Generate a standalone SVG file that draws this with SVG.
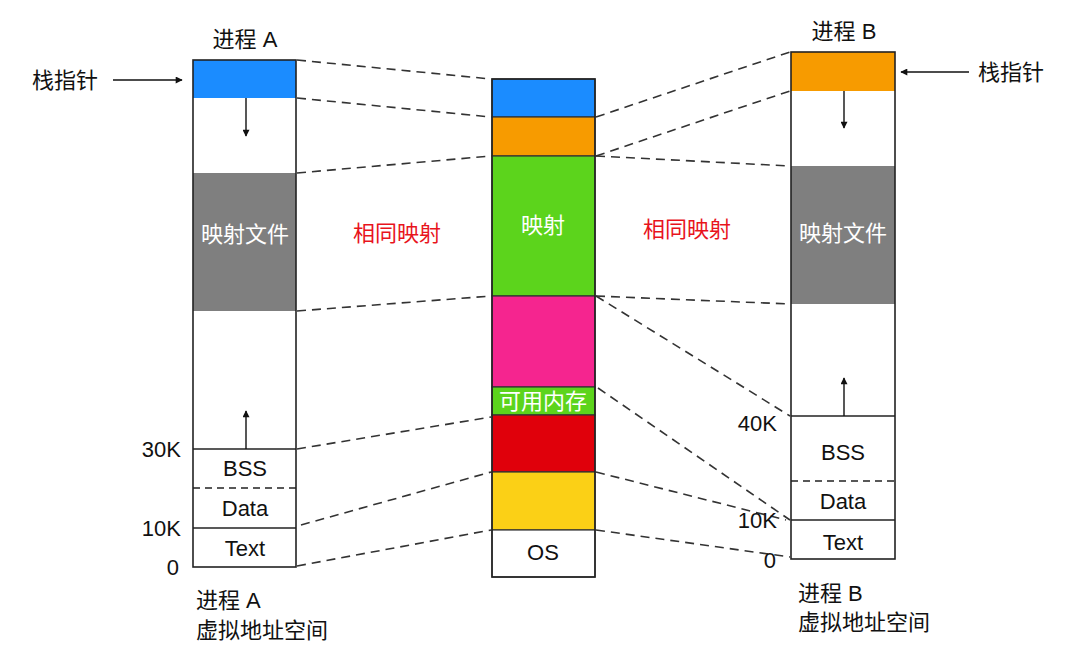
<svg xmlns="http://www.w3.org/2000/svg" width="1080" height="657" viewBox="0 0 1080 657">
<defs>
<style>
text{font-family:"Liberation Sans","Noto Sans CJK SC",sans-serif;font-size:22px;fill:#111}
.c{text-anchor:middle}
.r{text-anchor:end}
.w{fill:#fff}
.red{fill:#e8141c}
.box{stroke:#222;stroke-width:1.6;fill:none}
.seg{stroke:#333;stroke-width:1.2}
.dash{stroke:#333;stroke-width:1.6;stroke-dasharray:9 6;fill:none}
.arr{stroke:#111;stroke-width:1.4;fill:none;marker-end:url(#ah)}
</style>
<marker id="ah" viewBox="0 0 10 10" refX="9" refY="5" markerWidth="8" markerHeight="7" orient="auto" markerUnits="userSpaceOnUse">
<path d="M0,0 L10,5 L0,10 z" fill="#111"/>
</marker>
</defs>
<rect width="1080" height="657" fill="#fff"/>

<g id="connectors">
<line class="dash" x1="297" y1="60" x2="491" y2="79"/>
<line class="dash" x1="297" y1="98" x2="491" y2="117"/>
<line class="dash" x1="297" y1="173" x2="491" y2="156"/>
<line class="dash" x1="297" y1="311" x2="491" y2="296"/>
<line class="dash" x1="297" y1="449" x2="491" y2="417"/>
<line class="dash" x1="301" y1="525" x2="491" y2="472"/>
<line class="dash" x1="297" y1="566" x2="491" y2="530"/>
<line class="dash" x1="596" y1="117" x2="790" y2="52"/>
<line class="dash" x1="596" y1="156" x2="790" y2="91"/>
<line class="dash" x1="596" y1="156" x2="790" y2="166"/>
<line class="dash" x1="596" y1="296" x2="790" y2="304"/>
<line class="dash" x1="596" y1="296" x2="790" y2="416"/>
<line class="dash" x1="598" y1="388" x2="790" y2="520"/>
<line class="dash" x1="596" y1="472" x2="786" y2="520"/>
<line class="dash" x1="596" y1="530" x2="790" y2="557"/>
</g>

<g id="processA">
<text class="c" x="245" y="47">进程 A</text>
<rect x="193" y="60" width="103" height="38" fill="#1b8cff"/>
<rect x="193" y="173" width="103" height="138" fill="#7f7f7f"/>
<rect class="box" x="193" y="60" width="103" height="507"/>
<line x1="193" y1="449" x2="296" y2="449" stroke="#222" stroke-width="1.6"/>
<line x1="193" y1="488" x2="296" y2="488" stroke="#222" stroke-width="1.5" stroke-dasharray="7 5"/>
<line x1="193" y1="528" x2="296" y2="528" stroke="#222" stroke-width="1.6"/>
<line class="arr" x1="246" y1="98" x2="246" y2="136"/>
<line class="arr" x1="246" y1="449" x2="246" y2="411"/>
<text class="c w" x="245" y="242">映射文件</text>
<text class="c" x="245" y="476">BSS</text>
<text class="c" x="245" y="516">Data</text>
<text class="c" x="245" y="556">Text</text>
<text class="r" x="181" y="457">30K</text>
<text class="r" x="181" y="536">10K</text>
<text class="r" x="179" y="575">0</text>
<text x="196" y="608">进程 A</text>
<text x="196" y="638">虚拟地址空间</text>
</g>

<g id="spA">
<text x="32" y="88">栈指针</text>
<line class="arr" x1="113" y1="80" x2="182" y2="80"/>
</g>

<g id="memory">
<rect class="seg" x="492" y="79" width="103" height="38" fill="#1b8cff"/>
<rect class="seg" x="492" y="117" width="103" height="39" fill="#f79b00"/>
<rect class="seg" x="492" y="156" width="103" height="140" fill="#5cd41c"/>
<rect class="seg" x="492" y="296" width="103" height="91" fill="#f5258f"/>
<rect class="seg" x="492" y="387" width="103" height="28" fill="#5cd41c"/>
<rect class="seg" x="492" y="415" width="103" height="57" fill="#e0000b"/>
<rect class="seg" x="492" y="472" width="103" height="58" fill="#fbd016"/>
<rect class="seg" x="492" y="530" width="103" height="47" fill="#fff"/>
<rect class="box" x="492" y="79" width="103" height="498"/>
<text class="c w" x="543" y="233">映射</text>
<text class="c w" x="543" y="409">可用内存</text>
<text class="c" x="543" y="560">OS</text>
</g>

<g id="labels">
<text class="c red" x="397" y="241">相同映射</text>
<text class="c red" x="687" y="237">相同映射</text>
</g>

<g id="processB">
<text class="c" x="844" y="39">进程 B</text>
<rect x="791" y="52" width="104" height="39" fill="#f79b00"/>
<rect x="791" y="166" width="104" height="138" fill="#7f7f7f"/>
<rect class="box" x="791" y="52" width="104" height="507"/>
<line x1="791" y1="416" x2="895" y2="416" stroke="#222" stroke-width="1.6"/>
<line x1="791" y1="481" x2="895" y2="481" stroke="#222" stroke-width="1.5" stroke-dasharray="7 5"/>
<line x1="791" y1="520" x2="895" y2="520" stroke="#222" stroke-width="1.6"/>
<line class="arr" x1="844" y1="91" x2="844" y2="128"/>
<line class="arr" x1="844" y1="416" x2="844" y2="378"/>
<text class="c w" x="843" y="241">映射文件</text>
<text class="c" x="843" y="460">BSS</text>
<text class="c" x="843" y="509">Data</text>
<text class="c" x="843" y="550">Text</text>
<text class="r" x="777" y="431">40K</text>
<text class="r" x="777" y="528">10K</text>
<text class="r" x="776" y="568">0</text>
<text x="798" y="601">进程 B</text>
<text x="798" y="630">虚拟地址空间</text>
</g>

<g id="spB">
<line class="arr" x1="969" y1="72" x2="901" y2="72"/>
<text x="978" y="80">栈指针</text>
</g>
</svg>
